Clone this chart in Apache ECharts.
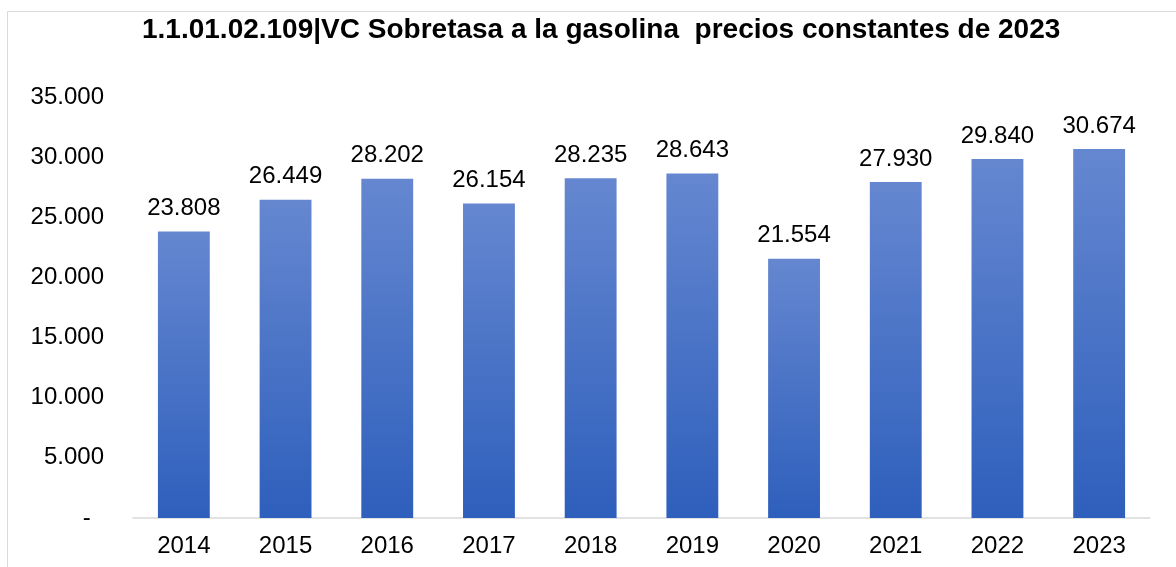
<!DOCTYPE html>
<html><head><meta charset="utf-8">
<script src="https://cdn.jsdelivr.net/npm/echarts@6/dist/echarts.min.js"></script>
<style>html,body{margin:0;padding:0;background:#fff}#c{width:1176px;height:567px}</style>
</head><body><div id="c"></div>
<script>
const categories = ['2014','2015','2016','2017','2018','2019','2020','2021','2022','2023'];
const values = [23808,26449,28202,26154,28235,28643,21554,27930,29840,30674];
const yTicks = [0,5000,10000,15000,20000,25000,30000,35000];
const titleText = '1.1.01.02.109|VC Sobretasa a la gasolina  precios constantes de 2023';

function fmt(v){
  if (v === 0) return '-  ';
  return String(Math.round(v)).replace(/\B(?=(\d{3})+(?!\d))/g, '.');
}
const chart = echarts.init(document.getElementById('c'));
chart.setOption({
  animation:false,
  textStyle:{fontFamily:'Liberation Sans, Arial, sans-serif'},
  graphic:[{type:'rect',shape:{x:7.5,y:11.5,width:1180,height:570},style:{fill:'none',stroke:'#d9d9d9',lineWidth:1},silent:true}],
  title:{text:titleText,left:142,top:16,padding:0,textStyle:{fontSize:28,fontWeight:'bold',color:'#000',fontFamily:'Liberation Sans, Arial, sans-serif'}},
  grid:{left:133,right:26,top:97,bottom:49,containLabel:false},
  xAxis:{type:'category',data:categories,
    axisLine:{lineStyle:{color:'#d9d9d9',width:1.5}},axisTick:{show:false},
    axisLabel:{color:'#000',fontSize:24,margin:16}},
  yAxis:{type:'value',min:yTicks[0],max:yTicks[yTicks.length-1],interval:5000,
    splitLine:{show:false},axisLine:{show:false},axisTick:{show:false},
    axisLabel:{color:'#000',fontSize:24,margin:29,formatter:fmt}},
  series:[{type:'bar',data:values,barWidth:'51%',
    itemStyle:{color:new echarts.graphic.LinearGradient(0,0,0,1,[{offset:0,color:'#6587d0'},{offset:1,color:'#2e5fbc'}])},
    label:{show:true,position:'top',distance:11,color:'#000',fontSize:24,formatter:p=>fmt(p.value)}}]
});
</script></body></html>
